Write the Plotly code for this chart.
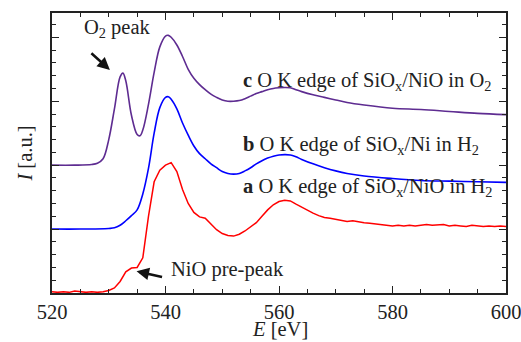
import plotly.graph_objects as go

# ---- data ----
energy_c = [520, 524, 527, 528, 529, 530, 531, 532, 532.5, 533, 534, 535, 535.5, 536, 537, 538, 539,
            540, 540.5, 541, 542, 543, 544, 545, 546, 547, 548, 549, 550, 551, 552, 553, 554, 555,
            556, 557, 558, 559, 560, 561, 562, 563, 564, 566, 568, 570, 572, 575, 580, 585, 590,
            595, 600]
intensity_c = [2.00, 2.00, 2.01, 2.03, 2.10, 2.40, 2.88, 3.38, 3.44, 3.32, 2.78, 2.48, 2.46, 2.55,
               2.95, 3.45, 3.85, 4.02, 4.03, 4.00, 3.88, 3.70, 3.50, 3.36, 3.26, 3.18, 3.11, 3.06,
               3.02, 3.00, 3.00, 3.01, 3.04, 3.08, 3.12, 3.15, 3.18, 3.20, 3.21, 3.215, 3.21, 3.18,
               3.15, 3.10, 3.06, 3.02, 2.98, 2.94, 2.89, 2.87, 2.84, 2.81, 2.79]

energy_b = [520, 525, 530, 531, 532, 533, 534, 535, 536, 537, 538, 539, 540, 540.5, 541, 542, 543,
            544, 545, 546, 547, 548, 549, 550, 551, 552, 553, 554, 555, 556, 557, 558, 559, 560,
            561, 562, 563, 564, 566, 568, 570, 572, 575, 580, 585, 590, 595, 600]
intensity_b = [1.00, 1.00, 1.01, 1.02, 1.06, 1.13, 1.21, 1.30, 1.55, 1.95, 2.50, 2.90, 3.06, 3.07,
               3.03, 2.88, 2.66, 2.47, 2.30, 2.18, 2.10, 2.02, 1.96, 1.90, 1.87, 1.86, 1.87, 1.91,
               1.96, 2.02, 2.07, 2.11, 2.14, 2.16, 2.165, 2.16, 2.13, 2.09, 2.02, 1.96, 1.91, 1.87,
               1.83, 1.79, 1.76, 1.75, 1.74, 1.73]

energy_a = list(range(520, 601))
intensity_a = [0.02, 0.01, 0.02, 0.01, 0.03, 0.02, 0.01, 0.02, 0.01, 0.02,
               0.04, 0.08, 0.18, 0.33, 0.39, 0.40, 0.55, 1.20, 1.74, 1.92,
               2.00, 2.04, 1.90, 1.62, 1.40, 1.26, 1.19, 1.17, 1.08, 0.99,
               0.93, 0.90, 0.89, 0.92, 0.97, 1.03, 1.10, 1.20, 1.30, 1.38,
               1.43, 1.45, 1.44, 1.39, 1.34, 1.30, 1.25, 1.21, 1.18, 1.17,
               1.15, 1.14, 1.12, 1.13, 1.11, 1.10, 1.09, 1.08, 1.07, 1.06,
               1.05, 1.06, 1.05, 1.06, 1.05, 1.06, 1.07, 1.06, 1.06, 1.07,
               1.05, 1.06, 1.05, 1.04, 1.06, 1.05, 1.04, 1.05, 1.04, 1.05,
               1.04]

x_ticks = [520, 540, 560, 580, 600]

FONT = "Liberation Serif"
AX = "#222222"
TXT = "#222222"
FS = 20.5

fig = go.Figure()
fig.add_trace(go.Scatter(x=energy_a, y=intensity_a, mode="lines",
                         line=dict(color="#ff0000", width=1.5), showlegend=False))
fig.add_trace(go.Scatter(x=energy_b, y=intensity_b, mode="lines", line_shape="spline",
                         line=dict(color="#0000ff", width=1.6), showlegend=False))
fig.add_trace(go.Scatter(x=energy_c, y=intensity_c, mode="lines", line_shape="spline",
                         line=dict(color="#5e2c91", width=1.6), showlegend=False))

labels = [
    (553.3, 3.31, "<b>c</b> O K edge of SiO<sub>x</sub>/NiO in O<sub>2</sub>"),
    (553.3, 2.31, "<b>b</b> O K edge of SiO<sub>x</sub>/Ni in H<sub>2</sub>"),
    (553.3, 1.65, "<b>a</b> O K edge of SiO<sub>x</sub>/NiO in H<sub>2</sub>"),
]
for x, y, t in labels:
    fig.add_annotation(x=x, y=y, text=t, showarrow=False, xanchor="left", yanchor="middle",
                       font=dict(family=FONT, size=FS, color=TXT))

fig.add_annotation(x=531.5, y=4.13, text="O<sub>2</sub> peak", showarrow=False,
                   font=dict(family=FONT, size=FS, color=TXT))
fig.add_annotation(x=540.6, y=0.37, text="NiO pre-peak", showarrow=False, xanchor="left",
                   font=dict(family=FONT, size=FS, color=TXT))
# arrows
fig.add_annotation(x=530.2, y=3.49, ax=-20, ay=-18, text="", showarrow=True,
                   arrowhead=2, arrowsize=1, arrowwidth=2.5, arrowcolor="#111")
fig.add_annotation(x=534.9, y=0.34, ax=27, ay=6, text="", showarrow=True,
                   arrowhead=2, arrowsize=1, arrowwidth=2.5, arrowcolor="#111")

# x-axis title placed below the tick labels
fig.add_annotation(xref="paper", yref="paper", x=0.502, y=-0.128, text="<i>E</i> [eV]",
                   showarrow=False, xanchor="center", yanchor="middle", borderpad=0,
                   font=dict(family=FONT, size=FS, color=TXT))

fig.update_layout(
    width=521, height=342,
    margin=dict(l=52, r=15, t=13, b=49, autoexpand=False),
    paper_bgcolor="white", plot_bgcolor="white",
    font=dict(family=FONT, size=FS, color=TXT),
    xaxis=dict(range=[520, 600], tickvals=x_ticks, ticks="inside", ticklen=7, tickwidth=1.2,
               tickcolor=AX, showline=True, linecolor=AX, linewidth=1.5, mirror="ticks",
               showgrid=False, zeroline=False, automargin=False, ticklabeloverflow="allow",
               minor=dict(dtick=5, ticks="inside", ticklen=4, tickcolor=AX, tickwidth=1),
               tickfont=dict(family=FONT, size=FS)),
    yaxis=dict(range=[0, 4.38], dtick=1, tick0=0, ticks="inside", ticklen=7, tickwidth=1.2,
               tickcolor=AX, showline=True, linecolor=AX, linewidth=1.5, mirror="ticks",
               showgrid=False, zeroline=False, showticklabels=False, automargin=False,
               minor=dict(dtick=0.2, ticks="inside", ticklen=4, tickcolor=AX, tickwidth=1),
               title=dict(text="<i>I</i> [a.u.]", standoff=12, font=dict(family=FONT, size=FS))),
)

fig.write_html("out.html")
